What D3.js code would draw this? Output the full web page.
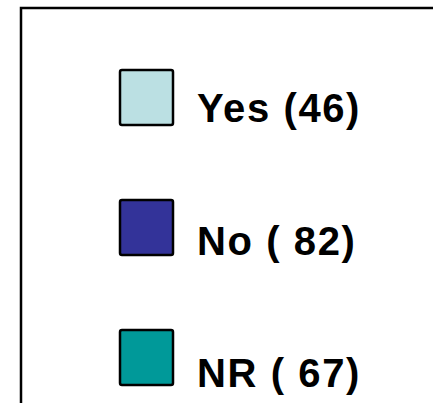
<!DOCTYPE html>
<html>
<head>
<meta charset="utf-8">
<script src="https://cdn.jsdelivr.net/npm/d3@7"></script>
<style>
  body { margin: 0; background: #fff; }
  svg { display: block; }
</style>
</head>
<body>
<div id="chart"></div>
<script>
/*
 * Data
 *****************************/
const categories = ["Yes", "No", "NR"];
const counts = [46, 82, 67];
const labels = ["Yes (46)", "No ( 82)", "NR ( 67)"];
const colors = ["#BBE0E3", "#333399", "#009999"];

const width = 433, height = 403;

const svg = d3.select("#chart").append("svg")
  .attr("width", width)
  .attr("height", height);

// frame, open to the right and bottom (cut by the window)
svg.append("rect")
  .attr("x", 21)
  .attr("y", 8)
  .attr("width", width + 20)
  .attr("height", height + 20)
  .attr("fill", "none")
  .attr("stroke", "#000")
  .attr("stroke-width", 2.5);

// swatch tops and label baselines
const boxScale = d3.scalePoint()
  .domain(categories)
  .range([70, 330]);
const textScale = d3.scalePoint()
  .domain(categories)
  .range([122, 387]);

const data = categories.map((c, i) => ({ cat: c, n: counts[i], label: labels[i], color: colors[i] }));

svg.selectAll("rect.swatch")
  .data(data)
  .enter()
  .append("rect")
  .attr("class", "swatch")
  .attr("x", 120)
  .attr("y", d => boxScale(d.cat))
  .attr("width", 53)
  .attr("height", 55)
  .attr("rx", 2)
  .attr("fill", d => d.color)
  .attr("stroke", "#000")
  .attr("stroke-width", 2.5);

svg.selectAll("text.label")
  .data(data)
  .enter()
  .append("text")
  .attr("class", "label")
  .attr("x", 197)
  .attr("y", d => textScale(d.cat))
  .attr("font-family", "Liberation Sans, Arial, sans-serif")
  .attr("font-weight", "bold")
  .attr("font-size", 40)
  .attr("letter-spacing", 1.6)
  .attr("fill", "#000")
  .style("white-space", "pre")
  .text(d => d.label);
</script>
</body>
</html>
